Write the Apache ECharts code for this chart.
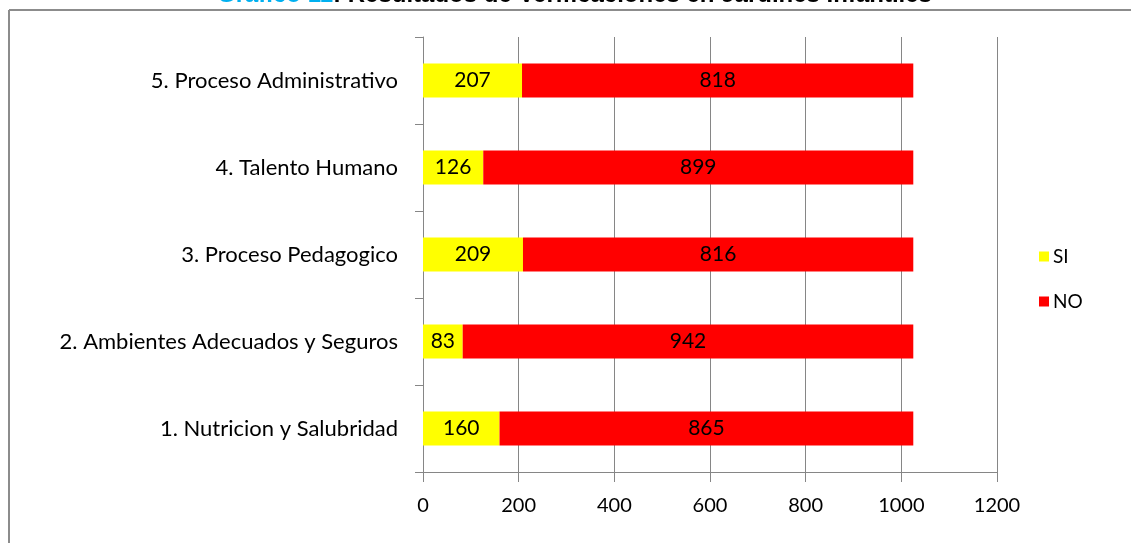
<!DOCTYPE html>
<html>
<head>
<meta charset="utf-8">
<script src="https://cdn.jsdelivr.net/npm/echarts@6/dist/echarts.min.js"></script>
<style>
  html, body { margin: 0; padding: 0; background: #fff; }
  #chart { width: 1131px; height: 543px; }
</style>
</head>
<body>
<div id="chart"></div>
<script>
// data
const categories = [
  "1. Nutricion y Salubridad",
  "2. Ambientes Adecuados y Seguros",
  "3. Proceso Pedagogico",
  "4. Talento Humano",
  "5. Proceso Administrativo",
];
const siValues = [160, 83, 209, 126, 207];
const noValues = [865, 942, 816, 899, 818];
const xTicks = [0, 200, 400, 600, 800, 1000, 1200];

const font = "Lato, 'Open Sans', sans-serif";
const gray = "#868686";

const chartDom = echarts.init(document.getElementById("chart"));
const option = {
  backgroundColor: "#fff",
  animation: false,
  graphic: [
    // frame of the chart box
    { type: "line", shape: { x1: 9, y1: 10, x2: 1131, y2: 10 }, style: { stroke: "#8c8c8c", lineWidth: 2 } },
    { type: "line", shape: { x1: 9, y1: 10, x2: 9, y2: 543 }, style: { stroke: "#8c8c8c", lineWidth: 2 } },
    // title, cut at the top edge
    {
      type: "text",
      left: 217,
      top: -17,
      style: {
        text: "{b|Gráfico 11}{k|: Resultados de Verificaciones en Jardines Infantiles}",
        rich: {
          b: { fill: "#00b0f0", fontFamily: "'Liberation Sans', Arial", fontWeight: "bold", fontSize: 24 },
          k: { fill: "#000", fontFamily: "'Liberation Sans', Arial", fontWeight: "bold", fontSize: 24 },
        },
      },
    },
  ],
  legend: {
    orient: "vertical",
    left: 1034,
    top: 242,
    itemWidth: 10,
    itemHeight: 10,
    itemGap: 26,
    icon: "rect",
    textStyle: { fontFamily: font, fontSize: 19, color: "#000", padding: [0, 0, 0, -1] },
    data: ["SI", "NO"],
  },
  grid: {
    left: 423,
    right: 134,
    top: 37,
    bottom: 71,
  },
  xAxis: {
    type: "value",
    min: 0,
    max: 1200,
    interval: 200,
    axisLine: { show: true, lineStyle: { color: gray, width: 1 } },
    axisTick: { show: true, length: 10, lineStyle: { color: gray } },
    splitLine: { show: true, lineStyle: { color: gray, width: 1 } },
    axisLabel: {
      margin: 24,
      color: "#000",
      fontFamily: font,
      fontSize: 20,
      formatter: (v) => (xTicks.includes(v) ? String(v) : ""),
    },
  },
  yAxis: {
    type: "category",
    data: categories,
    axisLine: { show: true, lineStyle: { color: gray, width: 1 } },
    axisTick: { show: true, length: 8, lineStyle: { color: gray } },
    axisLabel: {
      margin: 25,
      color: "#000",
      fontFamily: font,
      fontSize: 22,
    },
  },
  series: [
    {
      name: "SI",
      type: "bar",
      stack: "total",
      barWidth: 34,
      data: siValues,
      itemStyle: { color: "#ffff00" },
      label: { show: true, position: "inside", color: "#000", fontFamily: font, fontSize: 21 },
    },
    {
      name: "NO",
      type: "bar",
      stack: "total",
      barWidth: 34,
      data: noValues,
      itemStyle: { color: "#ff0000" },
      label: { show: true, position: "inside", color: "#000", fontFamily: font, fontSize: 21 },
    },
  ],
};
option && chartDom.setOption(option);
</script>
</body>
</html>
